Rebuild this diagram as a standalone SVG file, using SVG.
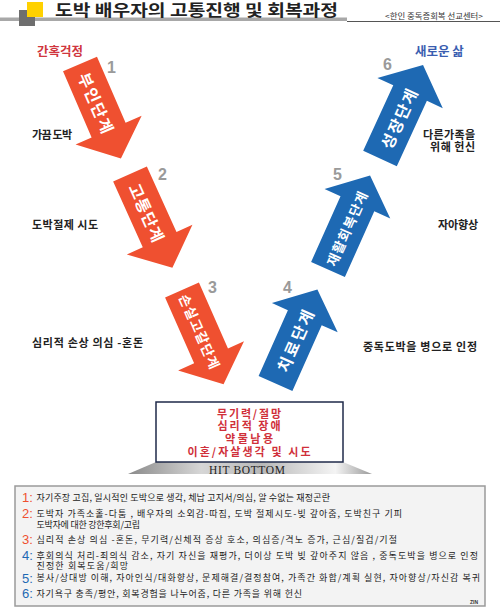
<svg xmlns="http://www.w3.org/2000/svg" width="500" height="607" viewBox="0 0 500 607">
<style>
.ko{font-family:"Noto Sans CJK KR","Noto Sans",sans-serif}
.side{font-family:"Noto Sans CJK KR",sans-serif;font-size:11px;font-weight:bold;fill:#222}
.num{font-family:"Liberation Sans",Arial,sans-serif;font-size:16px;font-weight:bold;fill:#9a9a9a}
.alab{font-family:"Noto Sans CJK KR",sans-serif;font-weight:bold;fill:#fff;text-anchor:middle;dominant-baseline:central}
.red{fill:#EF5030}
.blue{fill:#1E69B3}
.box{font-family:"Noto Sans CJK KR",sans-serif;font-size:11px;font-weight:bold;fill:#D0303A;text-anchor:middle}
.leg{font-family:"Noto Sans CJK KR",sans-serif;font-size:9px;fill:#222}
.ln{font-family:"Liberation Sans",Arial,sans-serif;font-size:13px}
</style>
<defs>
<path id="arrow" d="M0,-18.5 L72,-18.5 L72,-36 L103,0 L72,36 L72,18.5 L0,18.5 Z"/>
<linearGradient id="baseg" x1="0" y1="0" x2="1" y2="0">
<stop offset="0" stop-color="#8a8a8a"/>
<stop offset="0.3" stop-color="#d6d6d6"/>
<stop offset="0.55" stop-color="#b8b8b8"/>
<stop offset="0.85" stop-color="#f4f4f4"/>
<stop offset="1" stop-color="#9a9a9a"/>
</linearGradient>
</defs>
<rect width="500" height="607" fill="#fff"/>
<g id="header">
<rect x="0" y="17.5" width="347" height="3.5" fill="#a8a8a8"/>
<rect x="347" y="21" width="153" height="1" fill="#555"/>
<rect x="19" y="10" width="16" height="16" fill="#6e6e6e"/>
<rect x="27" y="2" width="16" height="15" fill="#FFD100"/>
<text class="ko" x="55" y="15.5" font-size="15.5" font-weight="bold" fill="#222" textLength="283" lengthAdjust="spacingAndGlyphs">도박 배우자의 고통진행 및 회복과정</text>
<text class="ko" x="385" y="18.5" font-size="7.5" fill="#333" textLength="98" lengthAdjust="spacingAndGlyphs">&lt;한인 중독증회복 선교센터&gt;</text>
</g>
<g id="connectors"/>
<text class="ko" x="37" y="56" font-size="12.5" font-weight="bold" fill="#D0363E">간혹걱정</text>
<text class="ko" x="415" y="56" font-size="12.5" font-weight="bold" fill="#3A5DB0">새로운 삶</text>
<g id="stage1">
<g transform="translate(80,64) rotate(66.6)"><use href="#arrow" class="red"/><text class="alab" x="42" y="0" font-size="16" textLength="64">부인단계</text></g>
<text class="num" x="107" y="73">1</text>
</g>
<g id="stage2">
<g transform="translate(130,174) rotate(65.7)"><use href="#arrow" class="red"/><text class="alab" x="42" y="0" font-size="16" textLength="62">고통단계</text></g>
<text class="num" x="158" y="180">2</text>
</g>
<g id="stage3">
<g transform="translate(182,290) rotate(66.2)"><use href="#arrow" class="red"/><text class="alab" x="45" y="0" font-size="13.5" textLength="80">손실고갈단계</text></g>
<text class="num" x="208" y="293">3</text>
</g>
<g id="stage4">
<g transform="translate(275.5,383.5) rotate(-66)"><use href="#arrow" class="blue"/><text class="alab" x="47" y="0" font-size="16" textLength="66">치료단계</text></g>
<text class="num" x="283" y="293">4</text>
</g>
<g id="stage5">
<g transform="translate(328,269.5) rotate(-65.9)"><use href="#arrow" class="blue"/><text class="alab" x="45" y="0" font-size="13.5" textLength="80">재활회복단계</text></g>
<text class="num" x="333" y="180">5</text>
</g>
<g id="stage6">
<g transform="translate(380,158.5) rotate(-65.3)"><use href="#arrow" class="blue"/><text class="alab" x="44" y="0" font-size="16" textLength="64">성장단계</text></g>
<text class="num" x="383" y="70">6</text>
</g>
<g id="labels">
<text class="side" x="32" y="139" textLength="40">가끔 도박</text>
<text class="side" x="32" y="229" textLength="66">도박절제 시도</text>
<text class="side" x="32" y="347" textLength="111">심리적 손상 의심 -혼돈</text>
<text class="side" x="423" y="139" textLength="52">다른가족을</text>
<text class="side" x="430" y="151" textLength="45">위해 헌신</text>
<text class="side" x="438" y="229" textLength="40">자아향상</text>
<text class="side" x="363" y="351" textLength="114">중독도박을 병으로 인정</text>
</g>
<g id="hit-bottom">
<polygon points="156,462 343,462 372,474 128,474" fill="url(#baseg)"/>
<rect x="156" y="402" width="187" height="60" fill="#fff" stroke="#1f2a4a" stroke-width="1.5"/>
<text class="box" x="249" y="417.5" textLength="64">무기력/절망</text>
<text class="box" x="249" y="430" textLength="63">심리적 장애</text>
<text class="box" x="249" y="442.5" textLength="48">약물남용</text>
<text class="box" x="249" y="455.5" textLength="123">이혼/자살생각 및 시도</text>
<text x="247" y="473.5" font-family="Liberation Serif,serif" font-size="11.5" fill="#222" text-anchor="middle" textLength="76">HIT BOTTOM</text>
</g>
<g id="legend">
<rect x="15" y="486" width="470" height="120" fill="#f3f3f3" stroke="#9a9a9a" stroke-width="1.5"/>
<text class="ln" x="22" y="502" fill="#EF5030">1:</text>
<text class="leg" x="36.5" y="500.5" textLength="293.5">자기주장 고집, 일시적인 도박으로 생각, 체납 고지서/의심, 알 수없는 재정곤란</text>
<text class="ln" x="22" y="518" fill="#EF5030">2:</text>
<text class="leg" x="36.5" y="516.5" textLength="365.5">도박자 가족소홀-다툼 , 배우자의 소외감-따짐, 도박 절제시도-빚 갚아줌, 도박친구 기피</text>
<text class="leg" x="36.5" y="527.5" textLength="103.5">도박자에 대한 강한후회/고립</text>
<text class="ln" x="22" y="544" fill="#EF5030">3:</text>
<text class="leg" x="36.5" y="542.5" textLength="360.5">심리적 손상 의심 -혼돈, 무기력/신체적 증상 호소, 의심증/격노 증가,  근심/질겁/기절</text>
<text class="ln" x="22" y="560" fill="#1E69B3">4:</text>
<text class="leg" x="36.5" y="558.5" textLength="441.5">후회의식 처리-죄의식 감소, 자기 자신을 재평가, 더이상 도박 빚 갚아주지 않음 , 중독도박을 병으로 인정</text>
<text class="leg" x="36.5" y="569" textLength="91.5">진정한 회복도움/희망</text>
<text class="ln" x="22" y="582.5" fill="#1E69B3">5:</text>
<text class="leg" x="36.5" y="581" textLength="443.5">봉사/상대방 이해, 자아인식/대화향상, 문제해결/결정참여, 가족간 화합/계획 실현, 자아향상/자신감 복귀</text>
<text class="ln" x="22" y="598" fill="#1E69B3">6:</text>
<text class="leg" x="36.5" y="596.5" textLength="265.5">자기욕구 충족/평안, 회복경험을 나누어줌, 다른 가족을 위해 헌신</text>
<text x="470" y="604" font-family="Liberation Sans,sans-serif" font-size="5" font-weight="bold" fill="#333">ZIN</text>
</g>
</svg>
